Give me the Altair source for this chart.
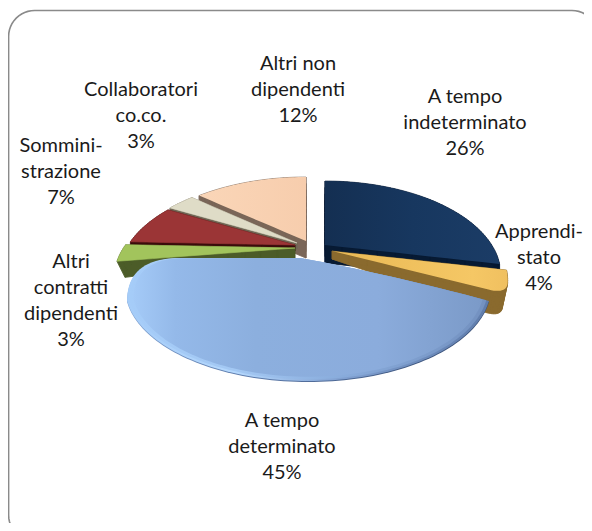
import math
import altair as alt

# ---------- data ----------
categories = ["A tempo indeterminato", "Apprendistato", "A tempo determinato",
              "Altri contratti dipendenti", "Somministrazione",
              "Collaboratori co.co.", "Altri non dipendenti"]
shares = [26, 4, 45, 3, 7, 3, 12]
label_lines = ["A tempo\nindeterminato\n26%", "Apprendi-\nstato\n4%", "A tempo\ndeterminato\n45%",
               "Altri\ncontratti\ndipendenti\n3%", "Sommini-\nstrazione\n7%",
               "Collaboratori\nco.co.\n3%", "Altri non\ndipendenti\n12%"]

# ---------- layout / style ----------
W, H = 576, 515
centers = [(325, 245), (332, 251), (308, 258), (295, 248), (295, 245), (297, 243), (306, 241)]
radii = [173, 173, 180, 178, 173, 173, 176]
depth0 = [18, 8, 0, 10, 6, 6, 17]
depth1 = [0, 16, 0, 6, 2, 2, 0]
shrink = [0, 0.03, 0, 0.045, 0, 0, 0]
round_end = [False, True, False, False, False, False, False]
tops = ["#17365d", "#f2c45f", "#8fb0de", "#a2c45c", "#9b3536", "#dfdcc7", "#f9d0b2"]
sides = ["#071a33", "#8a6a2e", "#5a78a8", "#4c5c28", "#3a0b0b", "#6f6654", "#7a6658"]
draw_order = [6, 5, 4, 3, 0, 1]
label_x = [465, 539, 282, 71, 61, 141, 298]
label_y = [97, 232, 421, 262, 146, 90, 64]
K, S, D = 0.174, 88.4, 0.15


def project(theta, cx, cy, R, f=1.0):
    u, v = math.sin(theta), -math.cos(theta)
    den = 1 - K * v
    return (cx + f * R * u / den, cy + f * S * (v + D) / den)


def slice_outline(i, t0, t1):
    cx, cy = centers[i]
    R = radii[i]
    pts, rs = [], []
    a = project(t0, cx, cy, R)
    b = project(t1, cx, cy, R)
    for k in range(10):
        r = k / 10
        pts.append((cx + (a[0] - cx) * r, cy + (a[1] - cy) * r))
        rs.append(r)
    if round_end[i]:
        # the far corner of the wedge is soft: stop the arc early and curve into the edge
        t_stop = t1 - math.radians(6)
        n = 8
        for k in range(n + 1):
            pts.append(project(t0 + (t_stop - t0) * k / n, cx, cy, R))
            rs.append(1)
        p0 = pts[-1]
        p2 = (cx + (b[0] - cx) * 0.9, cy + (b[1] - cy) * 0.9)
        for k in range(1, 13):
            s = k / 12
            pts.append(((1 - s) ** 2 * p0[0] + 2 * s * (1 - s) * b[0] + s * s * p2[0],
                        (1 - s) ** 2 * p0[1] + 2 * s * (1 - s) * b[1] + s * s * p2[1]))
            rs.append(1 - 0.1 * s)
        start = 2
    else:
        n = max(8, int((t1 - t0) * 40))
        for k in range(n + 1):
            pts.append(project(t0 + (t1 - t0) * k / n, cx, cy, R))
            rs.append(1)
        start = 1
    for k in range(start, 10):
        r = 1 - k / 10
        pts.append((cx + (b[0] - cx) * r, cy + (b[1] - cy) * r))
        rs.append(r)
    return pts, rs


def closed(pts):
    return [[round(x, 2), round(y, 2)] for x, y in pts] + [[round(pts[0][0], 2), round(pts[0][1], 2)]]


def poly(pts):
    return {"type": "Feature", "properties": {}, "geometry": {"type": "Polygon", "coordinates": [closed(pts)]}}


def area(q):
    return sum(q[i][0] * q[(i + 1) % len(q)][1] - q[(i + 1) % len(q)][0] * q[i][1] for i in range(len(q)))


def orient(q):
    return q if area(q) > 0 else q[::-1]


def side_feature(i, pts, rs):
    cx = centers[i][0]
    low = [(p[0] - (p[0] - cx) * shrink[i] * r, p[1] + depth0[i] + depth1[i] * r) for p, r in zip(pts, rs)]
    rings = [[closed(orient(low))]]
    for k in range(len(pts)):
        j = (k + 1) % len(pts)
        rings.append([closed(orient([pts[k], pts[j], low[j], low[k]]))])
    return {"type": "Feature", "properties": {}, "geometry": {"type": "MultiPolygon", "coordinates": rings}}


proj = dict(type="identity", scale=1, translate=[-8, -8])


def shape(feature, fill, stroke=None, sw=0.6):
    kw = dict(fill=fill)
    if stroke is not None:
        kw.update(stroke=stroke, strokeWidth=sw)
    return alt.Chart(alt.Data(values=[feature])).mark_geoshape(**kw).project(**proj)


def grad(stops, x1=0, x2=1, y1=0, y2=0):
    return alt.LinearGradient(gradient="linear", x1=x1, x2=x2, y1=y1, y2=y2,
                              stops=[alt.GradientStop(color=c, offset=o) for o, c in stops])


# angular extents from the shares
edges = [0]
for s in shares:
    edges.append(edges[-1] + s / sum(shares) * 2 * math.pi)

layers = []

# frame (runs past the right and bottom of the picture, as in the reference)
fx0, fy0, fx1, fy1, fr = 8.6, 10.5, 598, 541, 26
frame = []
for (ax, ay, st) in [(fx0 + fr, fy0 + fr, 180), (fx1 - fr, fy0 + fr, 270), (fx1 - fr, fy1 - fr, 0), (fx0 + fr, fy1 - fr, 90)]:
    for k in range(13):
        t = math.radians(st + k * 7.5)
        frame.append((ax + fr * math.cos(t), ay + fr * math.sin(t)))
layers.append(shape(poly(frame), "#ffffff", "#8a8a8a", 1.6))

top_fill = {
    0: grad([(0, "#142f52"), (0.5, "#17375f"), (1, "#1b3c66")]),
    6: grad([(0, "#fad6b8"), (1, "#f7cdad")]),
    1: grad([(0, "#e9b955"), (0.8, "#f5c765"), (1, "#f0c060")]),
}

for i in draw_order:
    pts, rs = slice_outline(i, edges[i], edges[i + 1])
    layers.append(shape(side_feature(i, pts, rs), sides[i], sides[i]))
    layers.append(shape(poly(pts), top_fill.get(i, tops[i]), tops[i] if i not in top_fill else None))


# blue slice with its rounded left corner and bevelled rim
def blue(f=1.0, dy=0.0):
    i = 2
    cx, cy = centers[i]
    R = radii[i]
    t0, t1 = edges[i], edges[i + 1]
    stop = math.radians(252)
    n = 90
    arc = [project(t0 + (stop - t0) * k / n, cx, cy, R, f) for k in range(n + 1)]
    c = (cx - f * R - 1, cy + 1 + (1 - f) * 4)
    e = (cx - f * R * 0.72, cy + (1 - f) * 4)
    corner = []
    for k in range(1, 21):
        s = k / 20
        corner.append(((1 - s) ** 2 * arc[-1][0] + 2 * s * (1 - s) * c[0] + s * s * e[0],
                       (1 - s) ** 2 * arc[-1][1] + 2 * s * (1 - s) * c[1] + s * s * e[1]))
    apex = (cx - 8, cy)
    tip = arc[0]
    q = (cx + (tip[0] - cx) * 0.45, cy + (tip[1] - cy) * 0.38)
    head = []
    for k in range(21):
        s = k / 20
        head.append(((1 - s) ** 2 * apex[0] + 2 * s * (1 - s) * q[0] + s * s * tip[0],
                     (1 - s) ** 2 * apex[1] + 2 * s * (1 - s) * q[1] + s * s * tip[1]))
    return [(x, y + dy) for x, y in head + arc[1:] + corner]


layers.append(shape(poly(blue(1.0, 1.0)), grad([(0, "#7ea0d0"), (0.35, "#5a78a8"), (1, "#33496f")])))
layers.append(shape(poly(blue(1.0)), grad([(0, "#a5ccf8"), (0.3, "#b5d8fd"), (0.6, "#7f9fd0"), (1, "#5f7cab")])))
layers.append(shape(poly(blue(0.985)), grad([(0, "#a5ccf8"), (0.3, "#a3c8f3"), (0.6, "#88abdb"), (1, "#7391c0")])))
layers.append(shape(poly(blue(0.965)), grad([(0, "#a4caf7"), (0.12, "#94b9e9"), (0.35, "#8cafde"), (0.7, "#8bacdc"), (1, "#7b9ac8")])))

# labels
label_rows = [{"name": c, "text": t, "lon": x, "lat": y}
              for c, t, x, y in zip(categories, label_lines, label_x, label_y)]
layers.append(
    alt.Chart(alt.Data(values=label_rows))
    .mark_text(font="Lato", fontSize=20, lineBreak="\n", lineHeight=26, align="center",
               baseline="middle", color="#1a1a1a")
    .encode(longitude="lon:Q", latitude="lat:Q", text="text:N")
    .project(**proj)
)

chart = (
    alt.layer(*layers)
    .properties(width=W, height=H, padding=0, background="#ffffff",
                autosize=alt.AutoSizeParams(type="none"))
    .configure_view(stroke=None)
)
chart.save("out.html", embed_options={"renderer": "svg", "actions": False})
